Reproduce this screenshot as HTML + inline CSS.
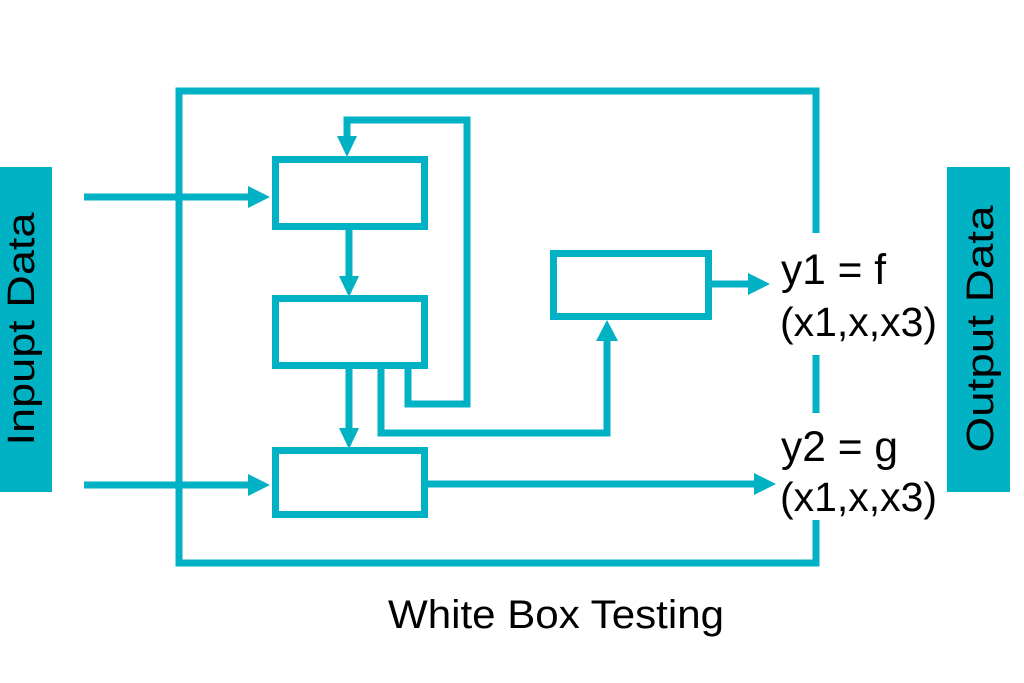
<!DOCTYPE html>
<html><head><style>
body{margin:0;width:1024px;height:683px;background:#fff;overflow:hidden}
svg{display:block}
text{font-family:"Liberation Sans",sans-serif;fill:#000}
</style></head><body>
<svg width="1024" height="683" viewBox="0 0 1024 683">
<g fill="none" stroke="#00b2c4" stroke-width="7">
<polyline points="816,233 816,91 179,91 179,563 816,563 816,520"/>
<line x1="816" y1="355" x2="816" y2="413"/>
<rect x="275.5" y="159.5" width="149" height="67"/>
<rect x="275.5" y="298.5" width="149" height="67"/>
<rect x="275.5" y="450.5" width="149" height="64"/>
<rect x="553.5" y="253.5" width="155" height="63"/>
<line x1="84" y1="197" x2="250" y2="197"/>
<line x1="84" y1="485" x2="250" y2="485"/>
<polyline points="408,368 408,404 467,404 467,120 347,120 347,140"/>
<line x1="349" y1="230" x2="349" y2="278"/>
<line x1="349" y1="368" x2="349" y2="430"/>
<polyline points="381,368 381,433 607,433 607,338"/>
<line x1="712" y1="284" x2="752" y2="284"/>
<line x1="428" y1="484" x2="757" y2="484"/>
</g>
<g fill="#00b2c4">
<polygon points="248,186 270,197 248,208"/>
<polygon points="248,474 270,485 248,496"/>
<polygon points="337,136 357,136 347,157"/>
<polygon points="339,276 359,276 349,297"/>
<polygon points="339,428 359,428 349,449"/>
<polygon points="596,341 618,341 607,320"/>
<polygon points="748,273 770,284 748,295"/>
<polygon points="754,473 776,484 754,495"/>
<rect x="0" y="167" width="52" height="325"/>
<rect x="947" y="167" width="63" height="325"/>
</g>
<text x="0" y="0" font-size="38" text-anchor="middle" textLength="233" lengthAdjust="spacingAndGlyphs" transform="translate(34,329) rotate(-90)">Inpupt Data</text>
<text x="0" y="0" font-size="38" text-anchor="middle" textLength="247" lengthAdjust="spacingAndGlyphs" transform="translate(993,329) rotate(-90)">Output Data</text>
<text x="781" y="284" font-size="43" textLength="105" lengthAdjust="spacingAndGlyphs">y1 = f</text>
<text x="780" y="336" font-size="41" textLength="157" lengthAdjust="spacingAndGlyphs">(x1,x,x3)</text>
<text x="781" y="461" font-size="43" textLength="117" lengthAdjust="spacingAndGlyphs">y2 = g</text>
<text x="780" y="511" font-size="41" textLength="157" lengthAdjust="spacingAndGlyphs">(x1,x,x3)</text>
<text x="388" y="628" font-size="40" textLength="336" lengthAdjust="spacingAndGlyphs">White Box Testing</text>
</svg>
</body></html>
